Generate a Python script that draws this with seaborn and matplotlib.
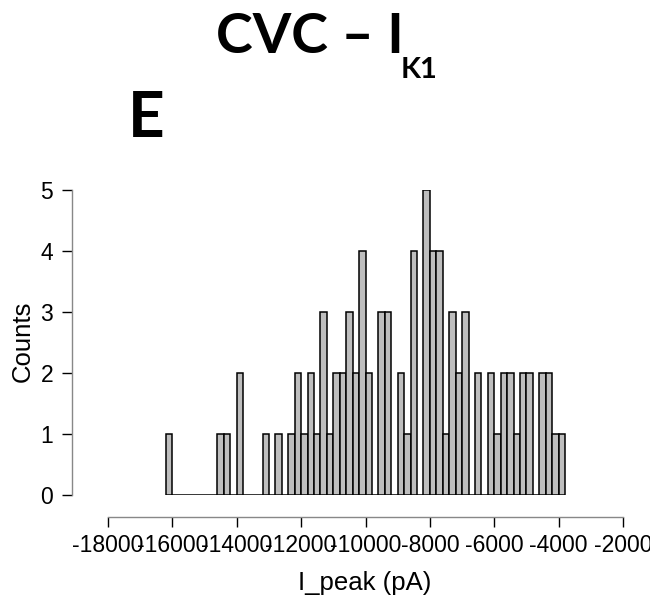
import numpy as np
import pandas as pd
import matplotlib
matplotlib.use("Agg")
import matplotlib.pyplot as plt
import seaborn as sns

# ---- data ----
BIN_START = -16200   # pA, left edge of first bin
BIN_WIDTH = 200      # pA
counts = [1, 0, 0, 0, 0, 0, 0, 0, 1, 1,
          0, 2, 0, 0, 0, 1, 0, 1, 0, 1,
          2, 1, 2, 1, 3, 1, 2, 2, 3, 2,
          4, 2, 0, 3, 3, 0, 2, 1, 4, 0,
          5, 4, 4, 1, 3, 2, 3, 0, 2, 0,
          2, 1, 2, 2, 1, 2, 2, 0, 2, 2,
          1, 1]
x_ticks = [-18000, -16000, -14000, -12000, -10000, -8000, -6000, -4000, -2000]
y_ticks = [0, 1, 2, 3, 4, 5]
title_main = "CVC – I"
title_sub = "K1"
panel_label = "E"
x_label = "I_peak (pA)"
y_label = "Counts"

edges = [float(BIN_START + BIN_WIDTH * i) for i in range(len(counts) + 1)]
centers = [(edges[i] + edges[i + 1]) / 2 for i in range(len(counts))]
df = pd.DataFrame({"I_peak": centers, "n": [float(c) for c in counts]})

sns.set_style("white")
plt.rcParams["font.family"] = ["Liberation Sans", "DejaVu Sans"]
plt.rcParams["text.color"] = "black"

W, H = 650, 606
fig = plt.figure(figsize=(W / 100, H / 100), dpi=100)
# axes: x data -18000..-2000 -> px 108..623 ; y 0..5 -> px 495..190
ax = fig.add_axes([108 / W, (H - 495) / H, 515 / W, 305 / H])

sns.histplot(data=df, x="I_peak", weights="n", bins=edges, ax=ax,
             color="#bebebe", edgecolor="black", linewidth=1.1, alpha=1.0)

ax.set_xlim(x_ticks[0], x_ticks[-1])
ax.set_ylim(0, 5)
ax.set_xticks(x_ticks)
ax.set_xticklabels([str(v) for v in x_ticks])
ax.set_yticks(y_ticks)
ax.set_yticklabels([str(v) for v in y_ticks])
ax.set_xlabel("")
ax.set_ylabel("")

for s in ["top", "right"]:
    ax.spines[s].set_visible(False)
ax.spines["bottom"].set_position(("outward", 16))
ax.spines["left"].set_position(("outward", 26))
ax.spines["bottom"].set_bounds(x_ticks[0], x_ticks[-1])
ax.spines["left"].set_bounds(y_ticks[0], y_ticks[-1])
for s in ["bottom", "left"]:
    ax.spines[s].set_color("#888888")
    ax.spines[s].set_linewidth(1.0)

ax.tick_params(axis="both", direction="out", length=7.5, width=1.0,
               color="black", labelsize=16.5, labelcolor="black")
ax.tick_params(axis="x", pad=4.5)
ax.tick_params(axis="y", pad=6)
ax.xaxis.set_ticks_position("bottom")
ax.yaxis.set_ticks_position("left")

fig.text(365 / W, 1 - 583 / H, x_label, ha="center", va="center",
         fontsize=18.5, color="black")
fig.text(23 / W, 1 - 341 / H, y_label, ha="center", va="center",
         rotation=90, fontsize=18.5, color="black")

bold_fam = ["Lato", "DejaVu Sans"]
fig.text(216 / W, 1 - 53 / H, title_main, ha="left", va="baseline",
         fontsize=40, fontweight="bold", family=bold_fam, color="black")
fig.text(401 / W, 1 - 78 / H, title_sub, ha="left", va="baseline",
         fontsize=21, fontweight="bold", family=bold_fam, color="black")
fig.text(128 / W, 1 - 137 / H, panel_label, ha="left", va="baseline",
         fontsize=46, fontweight="bold", family=bold_fam, color="black")

fig.savefig("out.png", dpi=100)
